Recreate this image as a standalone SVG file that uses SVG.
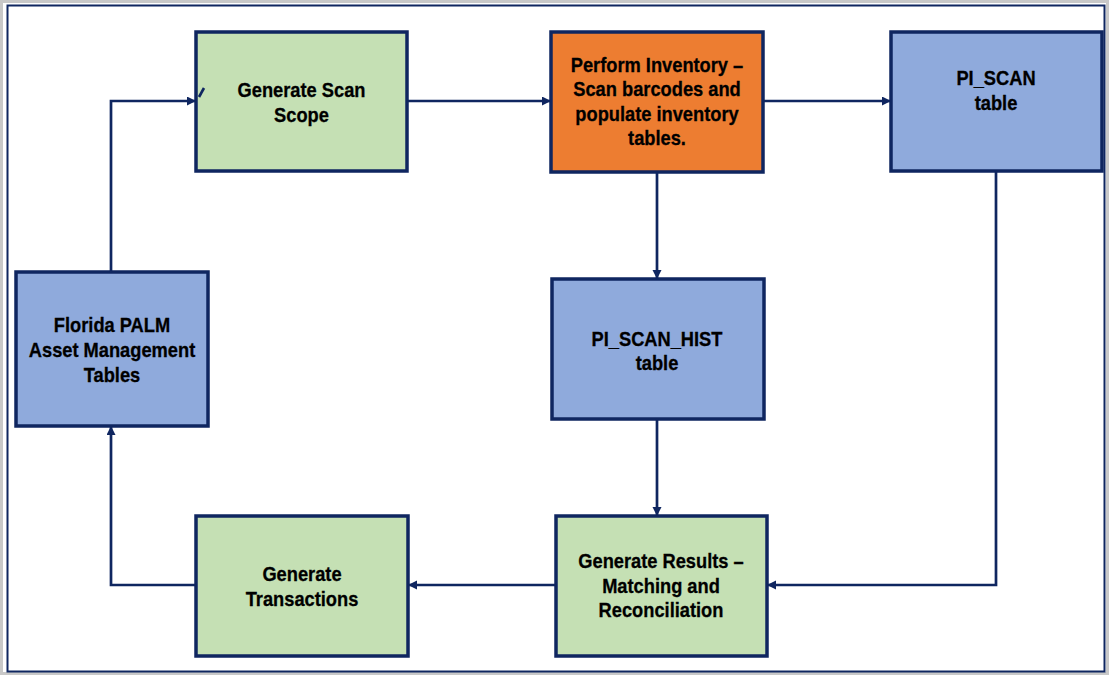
<svg xmlns="http://www.w3.org/2000/svg" width="1110" height="675" viewBox="0 0 1110 675">
<defs>
<style>
.box{stroke:#0F2660;stroke-width:3.5}
.green{fill:#C5E0B4}
.orange{fill:#ED7D31}
.blue{fill:#8FAADC}
.lbl{font-family:"Liberation Sans",Arial,sans-serif;font-weight:bold;font-size:21px;fill:#000;text-anchor:middle;stroke:#000;stroke-width:0.3}
.conn{fill:none;stroke:#0F2660;stroke-width:2.7}
</style>
<marker id="arr" markerUnits="userSpaceOnUse" markerWidth="10" markerHeight="10" refX="9" refY="4.5" orient="auto">
<path d="M0,0 L9,4.5 L0,9 z" fill="#0F2660"/>
</marker>
</defs>
<rect x="0" y="0" width="1110" height="675" fill="#fff"/>
<rect x="1.5" y="1.5" width="1106" height="672" fill="none" stroke="#c8c8c8" stroke-width="3"/>
<rect x="7.5" y="5.5" width="1097" height="666" fill="none" stroke="#0F2660" stroke-width="2"/>

<g id="scan-scope">
<rect class="box green" x="196" y="32" width="211" height="139"/>
<text class="lbl" transform="translate(301.5,0) scale(0.87,1)"><tspan x="0" y="97">Generate Scan</tspan><tspan x="0" y="122">Scope</tspan></text>
</g>

<g id="perform-inventory">
<rect class="box orange" x="551" y="32" width="212" height="140"/>
<text class="lbl" transform="translate(657,0) scale(0.87,1)"><tspan x="0" y="72">Perform Inventory –</tspan><tspan x="0" y="96.5">Scan barcodes and</tspan><tspan x="0" y="121">populate inventory</tspan><tspan x="0" y="145.5">tables.</tspan></text>
</g>

<g id="pi-scan">
<rect class="box blue" x="891" y="32" width="211" height="139"/>
<text class="lbl" transform="translate(996,0) scale(0.87,1)"><tspan x="0" y="85">PI_SCAN</tspan><tspan x="0" y="110">table</tspan></text>
</g>

<g id="florida-palm">
<rect class="box blue" x="16" y="272" width="192" height="154"/>
<text class="lbl" transform="translate(112,0) scale(0.87,1)"><tspan x="0" y="332">Florida PALM</tspan><tspan x="0" y="357">Asset Management</tspan><tspan x="0" y="382">Tables</tspan></text>
</g>

<g id="pi-scan-hist">
<rect class="box blue" x="552" y="279" width="212" height="140"/>
<text class="lbl" transform="translate(657,0) scale(0.87,1)"><tspan x="0" y="346">PI_SCAN_HIST</tspan><tspan x="0" y="370">table</tspan></text>
</g>

<g id="generate-results">
<rect class="box green" x="556" y="516" width="211" height="140"/>
<text class="lbl" transform="translate(661,0) scale(0.87,1)"><tspan x="0" y="568">Generate Results –</tspan><tspan x="0" y="593">Matching and</tspan><tspan x="0" y="617">Reconciliation</tspan></text>
</g>

<g id="generate-transactions">
<rect class="box green" x="196" y="516" width="212" height="140"/>
<text class="lbl" transform="translate(302,0) scale(0.87,1)"><tspan x="0" y="581">Generate</tspan><tspan x="0" y="606">Transactions</tspan></text>
</g>

<g id="connectors">
<path class="conn" d="M407,101 H551" marker-end="url(#arr)"/>
<path class="conn" d="M763,101 H891" marker-end="url(#arr)"/>
<path class="conn" d="M657,172 V279" marker-end="url(#arr)"/>
<path class="conn" d="M657,419 V516" marker-end="url(#arr)"/>
<path class="conn" d="M996,171 V585 H767" marker-end="url(#arr)"/>
<path class="conn" d="M556,585 H408" marker-end="url(#arr)"/>
<path class="conn" d="M196,585 H111 V426" marker-end="url(#arr)"/>
<path class="conn" d="M111,272 V101 H196" marker-end="url(#arr)"/>
<path d="M204,88 L199,97" stroke="#0F2660" stroke-width="2.6" fill="none"/>
</g>
</svg>
